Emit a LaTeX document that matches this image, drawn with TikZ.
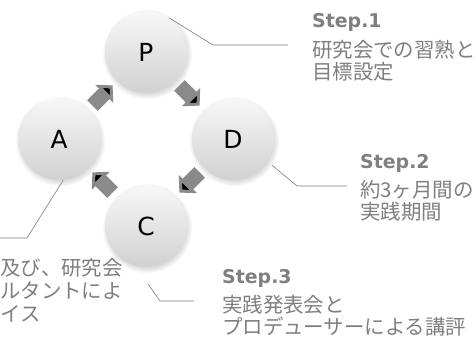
\documentclass[tikz,border=0pt]{standalone}
\usepackage{fontspec}
\setmainfont{DejaVu Sans}
\newfontfamily\jpfont{Noto Sans CJK JP}
\usetikzlibrary{arrows.meta,shadows}
\definecolor{txtgray}{HTML}{7F7F7F}
\definecolor{arrgray}{HTML}{8A8A8A}
\newcommand{\stp}[1]{{\normalfont\bfseries\fontsize{19}{22}\selectfont Step.#1}}
\begin{document}
\begin{tikzpicture}[x=1bp,y=1bp,node distance=123bp,
  phase/.style={circle,minimum size=82bp,inner sep=0pt,top color=white!97!black,bottom color=white!82!black,
    circular drop shadow={shadow xshift=1bp,shadow yshift=-2bp,opacity=.3},font=\fontsize{25}{30}\selectfont},
  cyc/.style={line width=15bp,draw=arrgray,-{Triangle[length=12bp,width=25bp]},shorten <=6bp,shorten >=6bp},
  lead/.style={draw=txtgray,line width=.6bp},
  note/.style={anchor=north west,inner sep=0pt,align=left,text=txtgray,font=\jpfont\fontsize{20.5}{21.5}\selectfont}]
\fill[white] (0,0) rectangle (476,344);
\useasboundingbox (0,0) rectangle (476,344);
\node (P) [phase] at (146,292) {P};
\node (D) [phase, below right of=P] {D};
\node (A) [phase, below left of=P] {A};
\node (C) [phase, below right of=A] {C};
\path[cyc] (P) edge (D)
           (D) edge (C)
           (C) edge (A)
           (A) edge (P);
\node (s1) [note] at (312,331) {\stp{1}\\[9bp]研究会での習熟と\\目標設定};
\node (s2) [note] at (360,190) {\stp{2}\\[8bp]約3ヶ月間の\\実践期間};
\node (s3) [note] at (222,75) {\stp{3}\\[8bp]実践発表会と\\プロデューサーによる講評};
\node (s4) [note] at (0,86) {及び、研究会\\[1.5bp]ルタントによ\\[1.5bp]イス};
\coordinate (k1) at (213,299);
\coordinate (e1) at (288,299);
\coordinate (k2) at (297,158);
\coordinate (e2) at (347,158);
\coordinate (f3) at (148,60);
\coordinate (k3) at (160,43);
\coordinate (e3) at (194,43);
\coordinate (k4) at (27,106);
\coordinate (e4) at (0,106);
\draw[lead] (P.56) -- (k1) -- (e1);
\draw[lead,shorten <=6bp] (D.-33) -- (k2) -- (e2);
\draw[lead] (f3) -- (k3) -- (e3);
\draw[lead] (A.-84) -- (k4) -- (e4);
\end{tikzpicture}
\end{document}
